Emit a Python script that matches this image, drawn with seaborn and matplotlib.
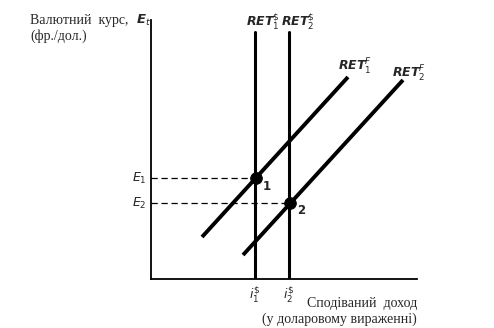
import matplotlib
matplotlib.use("Agg")
import matplotlib.pyplot as plt
import seaborn as sns
import pandas as pd

sns.set_theme(style="white")
plt.rcParams['font.family'] = ['DejaVu Sans']
plt.rcParams['mathtext.fontset'] = 'dejavusans'

# Schematic data (abstract units)
i_dollar = [104, 138]                 # RET$1, RET$2 vertical positions
ret_top = 247                         # top of RET$ lines
ret1f_x = [51, 197]; ret1f_y = [42, 202]
ret2f_x = [92, 252]; ret2f_y = [24, 199]
eq_x = [105, 139]; eq_y = [101, 76]   # equilibrium points 1, 2
eq_names = ["1", "2"]
e_labels = ["$E_1$", "$E_2$"]
i_labels = [r"$i^{\$}_{1}$", r"$i^{\$}_{2}$"]

fig = plt.figure(figsize=(4.94, 3.28), dpi=100)
ax = fig.add_axes([151/494, 49/328, 266/494, 259/328])
ax.set_xlim(0, 266)
ax.set_ylim(0, 259)

# vertical RET$ lines
for xv in i_dollar:
    df = pd.DataFrame({"x": [xv, xv], "y": [0, ret_top]})
    sns.lineplot(data=df, x="x", y="y", ax=ax, color="black", lw=2.2, sort=False, estimator=None)

for xs, ys in [(ret1f_x, ret1f_y), (ret2f_x, ret2f_y)]:
    df = pd.DataFrame({"x": xs, "y": ys})
    sns.lineplot(data=df, x="x", y="y", ax=ax, color="black", lw=2.8, sort=False, estimator=None,
                 solid_capstyle="butt")

# dashed guides
for xv, yv in zip(eq_x, eq_y):
    ax.plot([0, xv], [yv, yv], color="black", lw=0.9, ls=(0, (5, 3)))

pts = pd.DataFrame({"x": eq_x, "y": eq_y})
sns.scatterplot(data=pts, x="x", y="y", ax=ax, color="black", s=70, zorder=5, edgecolor="black")

for xv, yv, n in zip(eq_x, eq_y, eq_names):
    ax.text(xv + 7, yv - 8, n, fontsize=8.5, fontweight="bold", ha="left", va="center")
for yv, lab in zip(eq_y, e_labels):
    ax.text(-4, yv, lab, fontsize=9, ha="right", va="center")
for xv, lab in zip(i_dollar, i_labels):
    ax.text(xv, -6, lab, fontsize=9, ha="center", va="top")

lab_kw = dict(fontsize=9, fontweight="bold", fontstyle="italic", ha="left", va="baseline")
ax.text(95, 252, r"RET$^{\$}_{1}$", **lab_kw)
ax.text(130, 252, r"RET$^{\$}_{2}$", **lab_kw)
ax.text(187, 208, r"RET$^{F}_{1}$", **lab_kw)
ax.text(241, 201, r"RET$^{F}_{2}$", **lab_kw)

ax.set_xticks([]); ax.set_yticks([])
ax.set_xlabel(""); ax.set_ylabel("")
for s in ["top", "right"]:
    ax.spines[s].set_visible(False)
for s in ["left", "bottom"]:
    ax.spines[s].set_color("black")
    ax.spines[s].set_linewidth(1.3)

serif = ["Liberation Serif", "DejaVu Serif"]
fig.text(30/494, 1 - 24/328, "Валютний  курс,", family=serif, fontsize=10, ha="left", va="baseline")
fig.text(136/494, 1 - 24/328, r"E$_{t}$", fontsize=9.5, fontweight="bold", fontstyle="italic",
         ha="left", va="baseline")
fig.text(30/494, 1 - 40/328, "(фр./дол.)", family=serif, fontsize=10, ha="left", va="baseline")
fig.text(417/494, 1 - 307/328, "Сподіваний  доход", family=serif, fontsize=10, ha="right", va="baseline")
fig.text(417/494, 1 - 323/328, "(у доларовому вираженні)", family=serif, fontsize=10, ha="right", va="baseline")

fig.savefig("out.png", dpi=100, facecolor="white")
